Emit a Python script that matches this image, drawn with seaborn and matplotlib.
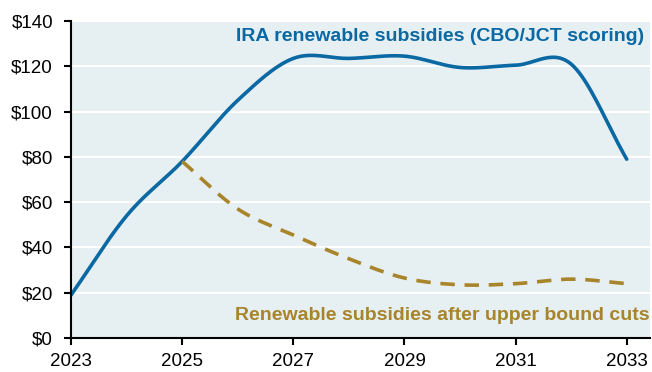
import numpy as np
import pandas as pd
import seaborn as sns
import matplotlib.pyplot as plt

# Datos (miles de millones de dolares)
years = [2023, 2024, 2025, 2026, 2027, 2028, 2029, 2030, 2031, 2032, 2033]
ira_subsidies = [19, 54, 78, 105, 123.5, 123.5, 124.5, 119.5, 120.5, 121, 79]
cut_years = [2025, 2026, 2027, 2028, 2029, 2030, 2031, 2032, 2033]
cut_subsidies = [78, 57, 45.5, 35, 26.5, 23.5, 24, 26, 24]

ira_label = "IRA renewable subsidies (CBO/JCT scoring)"
cut_label = "Renewable subsidies after upper bound cuts"
y_ticks = [0, 20, 40, 60, 80, 100, 120, 140]
x_ticks = [2023, 2025, 2027, 2029, 2031, 2033]

blue = "#0a68a3"
gold = "#a8842a"


def smooth(x, y, n=20):
    # curva suavizada estilo Excel (Catmull-Rom)
    x = np.asarray(x, float)
    y = np.asarray(y, float)
    px = np.concatenate([[2 * x[0] - x[1]], x, [2 * x[-1] - x[-2]]])
    py = np.concatenate([[2 * y[0] - y[1]], y, [2 * y[-1] - y[-2]]])
    xs, ys = [], []
    t = np.linspace(0, 1, n, endpoint=False)
    for i in range(1, len(px) - 2):
        for p, out in ((px, xs), (py, ys)):
            p0, p1, p2, p3 = p[i - 1], p[i], p[i + 1], p[i + 2]
            out.extend(0.5 * ((2 * p1) + (-p0 + p2) * t
                              + (2 * p0 - 5 * p1 + 4 * p2 - p3) * t ** 2
                              + (-p0 + 3 * p1 - 3 * p2 + p3) * t ** 3))
    xs.append(x[-1])
    ys.append(y[-1])
    return pd.DataFrame({"year": xs, "value": ys})


sns.set_style("white")
plt.rcParams["font.family"] = ["Liberation Sans", "DejaVu Sans"]

fig = plt.figure(figsize=(6.52, 3.72), dpi=100)
ax = fig.add_axes([0.109, 0.0914, 0.888, 0.852])
ax.set_facecolor("#e6eff2")

sns.lineplot(data=smooth(years, ira_subsidies), x="year", y="value",
             color=blue, linewidth=2.6, ax=ax, sort=False)
sns.lineplot(data=smooth(cut_years, cut_subsidies), x="year", y="value",
             color=gold, linewidth=2.6, ax=ax, sort=False)
ax.lines[1].set_dashes([4, 2.7])

ax.set_xlim(2023, 2033.42)
ax.set_ylim(0, 140)
ax.set_yticks(y_ticks)
ax.set_yticklabels([f"${v}" for v in y_ticks])
ax.set_xticks(x_ticks)
ax.set_xticklabels([str(v) for v in x_ticks])
ax.set_xlabel("")
ax.set_ylabel("")

ax.grid(axis="y", color="white", linewidth=1.5)
ax.set_axisbelow(True)
for s in ["top", "right"]:
    ax.spines[s].set_visible(False)
for s in ["left", "bottom"]:
    ax.spines[s].set_color("black")
    ax.spines[s].set_linewidth(1.5)
ax.tick_params(axis="both", direction="out", length=5, width=1.5,
               color="black", labelsize=13.5, labelcolor="black",
               left=True, bottom=True)
ax.tick_params(axis="y", pad=8)
ax.tick_params(axis="x", pad=6)

ax.text(2033.32, 133, ira_label, color=blue, fontsize=14,
        fontweight="bold", ha="right", va="center")
ax.text(2033.42, 10, cut_label, color=gold, fontsize=14,
        fontweight="bold", ha="right", va="center")

fig.savefig("out.png", dpi=100)
